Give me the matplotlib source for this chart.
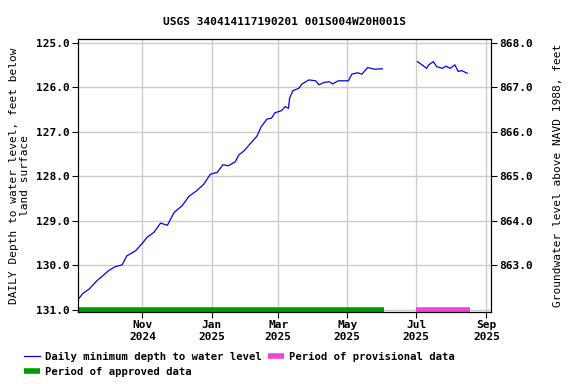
import numpy as np
import pandas as pd
import matplotlib
matplotlib.use("Agg")
import matplotlib.pyplot as plt

plt.rcParams['font.family'] = ['DejaVu Sans Mono']
plt.rcParams['font.weight'] = 'bold'
plt.rcParams['font.size'] = 8

# daily minimum depth to water level, feet below land surface
dates_a = ["2024-09-06", "2024-09-09", "2024-09-15", "2024-09-22", "2024-09-28",
           "2024-10-02", "2024-10-08", "2024-10-14", "2024-10-18", "2024-10-26",
           "2024-11-01", "2024-11-05", "2024-11-11", "2024-11-17", "2024-11-23",
           "2024-11-29", "2024-12-06", "2024-12-12", "2024-12-19", "2024-12-25",
           "2024-12-31", "2025-01-06", "2025-01-11", "2025-01-16", "2025-01-22",
           "2025-01-25", "2025-01-30", "2025-02-04", "2025-02-10", "2025-02-14",
           "2025-02-19", "2025-02-23", "2025-02-26", "2025-03-04", "2025-03-07",
           "2025-03-10", "2025-03-11", "2025-03-14", "2025-03-19", "2025-03-22",
           "2025-03-28", "2025-04-03", "2025-04-06", "2025-04-10", "2025-04-15",
           "2025-04-18", "2025-04-23", "2025-05-02", "2025-05-05", "2025-05-10",
           "2025-05-14", "2025-05-19", "2025-05-25", "2025-06-01"]
depth_a = [130.74, 130.64, 130.53, 130.34, 130.21,
           130.12, 130.03, 129.99, 129.79, 129.67,
           129.50, 129.37, 129.26, 129.05, 129.10,
           128.81, 128.66, 128.45, 128.32, 128.18,
           127.95, 127.91, 127.74, 127.76, 127.67,
           127.52, 127.42, 127.27, 127.10, 126.88,
           126.71, 126.69, 126.57, 126.52, 126.43,
           126.47, 126.24, 126.07, 126.02, 125.92,
           125.83, 125.85, 125.94, 125.89, 125.87,
           125.92, 125.85, 125.85, 125.70, 125.67,
           125.70, 125.55, 125.59, 125.58]

dates_p = ["2025-07-02", "2025-07-06", "2025-07-10", "2025-07-12", "2025-07-16",
           "2025-07-19", "2025-07-24", "2025-07-27", "2025-07-31", "2025-08-04",
           "2025-08-07", "2025-08-10", "2025-08-15"]
depth_p = [125.42, 125.49, 125.57, 125.49, 125.42,
           125.53, 125.57, 125.52, 125.57, 125.49,
           125.64, 125.62, 125.68]

approved_span = ["2024-09-05", "2025-06-02"]
provisional_span = ["2025-07-01", "2025-08-17"]

datum = 993.0  # land surface elevation, NAVD 1988

fig = plt.figure(figsize=(5.76, 3.84), dpi=100)
ax = fig.add_axes([78/576, 1-312/384, (491-78)/576, (312-39)/384])

ax.plot(pd.to_datetime(dates_a), depth_a, color='blue', lw=0.9,
        label='Daily minimum depth to water level')
ax.plot(pd.to_datetime(dates_p), depth_p, color='blue', lw=0.9)
ax.plot(pd.to_datetime(approved_span), [131.0, 131.0], color='#009900', lw=4,
        solid_capstyle='butt', label='Period of approved data')
ax.plot(pd.to_datetime(provisional_span), [131.0, 131.0], color='#ee44dd', lw=4,
        solid_capstyle='butt', label='Period of provisional data')

ax.set_xlim(pd.Timestamp("2024-09-05"), pd.Timestamp("2025-09-05"))
ax.set_ylim(131.05, 124.91)
ax.set_yticks(np.arange(125, 131.5, 1.0))
ax.yaxis.set_major_formatter(plt.FormatStrFormatter('%.1f'))
ticks = pd.to_datetime(["2024-11-01", "2025-01-01", "2025-03-01",
                        "2025-05-01", "2025-07-01", "2025-09-01"])
ax.set_xticks(ticks)
ax.set_xticklabels([d.strftime('%b\n%Y') for d in ticks])
ax.tick_params(length=4, pad=2)
ax.grid(True, color='#cccccc', lw=1)
ax.set_ylabel('DAILY Depth to water level, feet below\nland surface',
              labelpad=4)
ax.set_title('USGS 340414117190201 001S004W20H001S', fontsize=8,
             fontweight='bold', pad=10)

ax2 = ax.twinx()
ax2.set_ylim(datum - 131.05, datum - 124.91)
ax2.set_yticks(np.arange(863, 868.5, 1.0))
ax2.yaxis.set_major_formatter(plt.FormatStrFormatter('%.1f'))
ax2.tick_params(length=4, pad=2)
ax2.set_ylabel('Groundwater level above NAVD 1988, feet', labelpad=14)

h, l = ax.get_legend_handles_labels()
fig.legend(h, l, loc='upper left', bbox_to_anchor=(0.034, 0.095), ncol=2,
           frameon=False, handlelength=1.5, columnspacing=0.66,
           borderaxespad=0, handletextpad=0.47, labelspacing=0.45,
           prop={'size': 7.6, 'weight': 'bold'})

fig.savefig('out.png', dpi=100)
